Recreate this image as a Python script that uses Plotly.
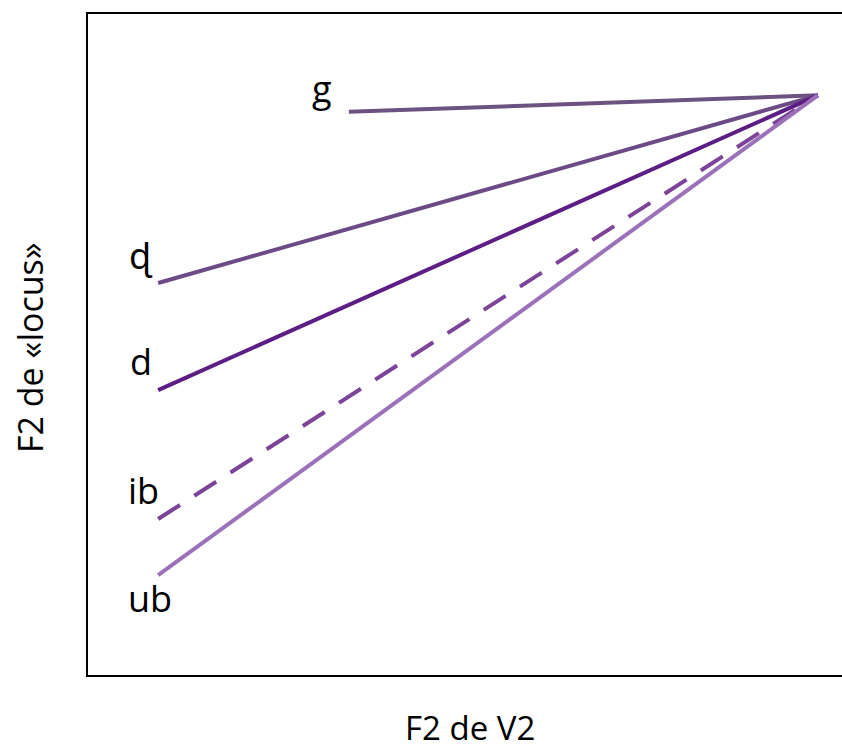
import plotly.graph_objects as go

# Data (abstract F2 units, 0-100 scale)
labels = ["g", "ɖ", "d", "ib", "ub"]
start_x = [34.6, 9.3, 9.3, 9.3, 9.3]
start_y = [85.2, 59.3, 43.1, 23.6, 15.1]
end_x = [96.8, 96.8, 96.8, 96.8, 96.8]
end_y = [87.7, 87.7, 87.7, 87.7, 87.7]
label_x = [31.0, 7.0, 7.0, 7.3, 8.2]
label_y = [88.8, 63.4, 47.4, 27.9, 11.5]

colors = ["#6b5280", "#6c4a86", "#5c1e84", "#7b4498", "#9b72b8"]
dashes = ["solid", "solid", "solid", "26px,17px", "solid"]

FONT = "Open Sans, Noto Sans, DejaVu Sans, sans-serif"

fig = go.Figure()
for i, lab in enumerate(labels):
    fig.add_trace(go.Scatter(
        x=[start_x[i], end_x[i]], y=[start_y[i], end_y[i]],
        mode="lines", line=dict(color=colors[i], width=4, dash=dashes[i]),
        showlegend=False, hoverinfo="skip"))
    fig.add_annotation(x=label_x[i], y=label_y[i], text=lab, showarrow=False,
                       font=dict(family=FONT, size=36, color="black"),
                       xanchor="center", yanchor="middle")

fig.add_annotation(xref="paper", yref="paper", x=(470 - 88) / 754, y=(675 - 727) / 661,
                   text="F2 de V2", showarrow=False, borderpad=0,
                   font=dict(family=FONT, size=33, color="black"),
                   xanchor="center", yanchor="middle")
fig.add_annotation(xref="paper", yref="paper", x=(30 - 88) / 754, y=(675 - 348) / 661,
                   text="F2 de «locus»", showarrow=False, textangle=-90,
                   font=dict(family=FONT, size=34, color="black"),
                   xanchor="center", yanchor="middle")

fig.update_layout(
    width=842, height=752,
    margin=dict(l=88, r=0, t=14, b=77),
    plot_bgcolor="white", paper_bgcolor="white",
    xaxis=dict(range=[0, 100], showgrid=False, zeroline=False, showticklabels=False,
               ticks="", showline=True, linecolor="black", linewidth=2, mirror=True),
    yaxis=dict(range=[0, 100], showgrid=False, zeroline=False, showticklabels=False,
               ticks="", showline=True, linecolor="black", linewidth=2),
)

fig.write_html("out.html", config={"displayModeBar": False},
               post_script="document.body.style.margin='0';document.body.style.overflow='hidden';")
